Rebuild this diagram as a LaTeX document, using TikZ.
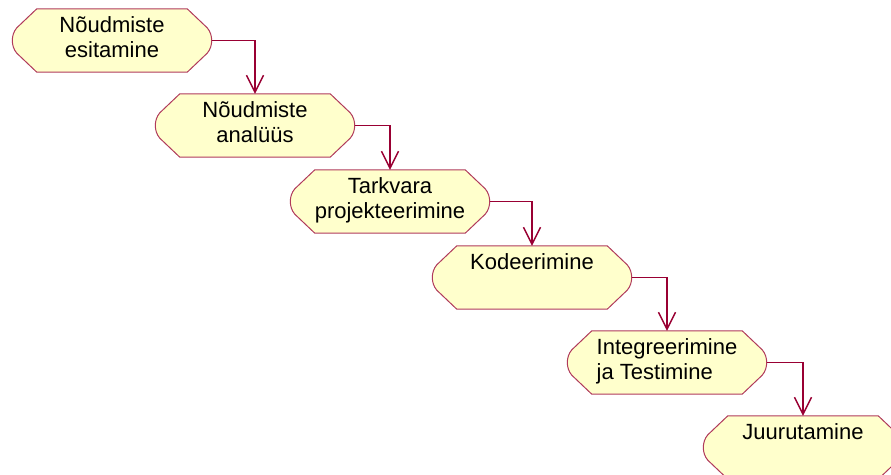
\documentclass[tikz,border=0pt]{standalone}
\usepackage{fontspec}
\setmainfont{Liberation Sans}
\usetikzlibrary{arrows.meta}
\pgfdeclarelayer{background}
\pgfsetlayers{background,main}

\definecolor{actfill}{HTML}{FFFFCC}
\definecolor{actedge}{HTML}{B03A5B}
\definecolor{flowline}{HTML}{990033}

% every text line gets the same height and depth
\newcommand\actln{\rule[-8pt]{0pt}{24pt}}

% rounded octagonal outline of an activity node
\newcommand\actoutline[1]{%
  \path[actbox]
    ([xshift=25pt]#1.north west) -- ([xshift=-25pt]#1.north east)
    -- ([xshift=-5pt,yshift=-19pt]#1.north east)
    .. controls ([xshift=1pt,yshift=-26pt]#1.north east) and ([xshift=1pt,yshift=26pt]#1.south east) ..
    ([xshift=-5pt,yshift=19pt]#1.south east)
    -- ([xshift=-25pt]#1.south east) -- ([xshift=25pt]#1.south west)
    -- ([xshift=5pt,yshift=19pt]#1.south west)
    .. controls ([xshift=-1pt,yshift=26pt]#1.south west) and ([xshift=-1pt,yshift=-26pt]#1.north west) ..
    ([xshift=5pt,yshift=-19pt]#1.north west) -- cycle;}

\tikzset{
  x=1pt, y=1pt,
  act/.style={rectangle, minimum width=200pt, minimum height=63pt,
    inner sep=0pt, align=center, font=\fontsize{22}{25}\selectfont},
  actbox/.style={draw=actedge, line width=1pt, fill=actfill, line join=miter},
  flow/.style={draw=flowline, line width=1.4pt,
    -{Straight Barb[length=17pt,width=17pt]}},
}

\begin{document}
\begin{tikzpicture}
\useasboundingbox (0,0) rectangle (891,-474);
\clip (0,0) rectangle (891,-474);

\node[act] (n1) at (112,-40.5) {\actln N\~oudmiste\\\actln esitamine};
\node[act] (n2) at (255,-125.5) {\actln N\~oudmiste\\\actln anal\"u\"us};
\node[act] (n3) at (390,-201.5) {\actln Tarkvara\\\actln projekteerimine};
\node[act] (n4) at (532,-277.5) {\actln Kodeerimine\\\actln};
\node[act, align=left] (n5) at (667,-362.5) {\actln Integreerimine\\\actln ja Testimine};
\node[act] (n6) at (803,-447.5) {\actln Juurutamine\\\actln};

\begin{pgfonlayer}{background}
  \foreach \n in {n1,n2,n3,n4,n5,n6} {\actoutline{\n}}
\end{pgfonlayer}

\draw[flow] (n1.east) -| (n2.north);
\draw[flow] (n2.east) -| (n3.north);
\draw[flow] (n3.east) -| (n4.north);
\draw[flow] (n4.east) -| (n5.north);
\draw[flow] (n5.east) -| (n6.north);
\end{tikzpicture}
\end{document}
